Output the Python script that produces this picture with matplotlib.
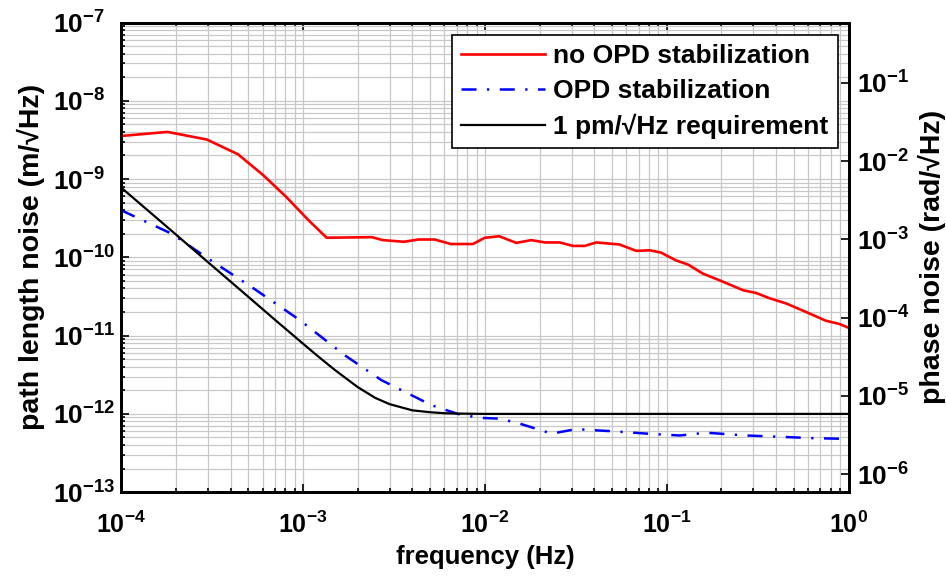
import numpy as np
import matplotlib
matplotlib.use("Agg")
import matplotlib.pyplot as plt
from matplotlib.ticker import LogLocator, NullLocator, NullFormatter

plt.rcParams["font.family"] = ["Liberation Sans", "DejaVu Sans"]
plt.rcParams["font.weight"] = "bold"
plt.rcParams["mathtext.fontset"] = "custom"
plt.rcParams["mathtext.rm"] = "Liberation Sans:bold"
plt.rcParams["mathtext.it"] = "Liberation Sans:bold"
plt.rcParams["mathtext.bf"] = "Liberation Sans:bold"

# no OPD stabilization (red)
f_free = [1.0e-4, 1.8e-4, 2.96e-4, 4.4e-4, 6.05e-4, 8.1e-4, 1.07e-3, 1.35e-3,
          2.39e-3, 2.75e-3, 3.6e-3, 4.3e-3, 5.3e-3, 6.5e-3, 8.6e-3, 1.0e-2,
          1.06e-2, 1.2e-2, 1.49e-2, 1.8e-2, 2.14e-2, 2.58e-2, 3.05e-2, 3.55e-2,
          4.1e-2, 5.5e-2, 6.8e-2, 8.1e-2, 9.3e-2, 1.13e-1, 1.31e-1, 1.58e-1,
          1.95e-1, 2.63e-1, 3.11e-1, 3.68e-1, 4.55e-1, 5.85e-1, 7.5e-1, 8.9e-1, 1.0]
n_free = [3.55e-9, 4.0e-9, 3.2e-9, 2.07e-9, 1.12e-9, 5.9e-10, 3.0e-10, 1.78e-10,
          1.81e-10, 1.66e-10, 1.58e-10, 1.69e-10, 1.69e-10, 1.48e-10, 1.48e-10, 1.78e-10,
          1.8e-10, 1.86e-10, 1.53e-10, 1.66e-10, 1.55e-10, 1.55e-10, 1.40e-10, 1.40e-10,
          1.55e-10, 1.46e-10, 1.21e-10, 1.23e-10, 1.15e-10, 9.1e-11, 8.1e-11, 6.2e-11,
          5.1e-11, 3.8e-11, 3.5e-11, 3.0e-11, 2.57e-11, 2.0e-11, 1.55e-11, 1.41e-11, 1.26e-11]

# OPD stabilization (blue)
f_stab = [1.0e-4, 1.9e-4, 3.0e-4, 5.45e-4, 9.6e-4, 1.7e-3, 2.7e-3, 5.1e-3,
          7.1e-3, 9.4e-3, 1.21e-2, 1.56e-2, 2.33e-2, 3.19e-2, 3.93e-2, 5.07e-2,
          7.76e-2, 1.18e-1, 1.65e-1, 2.74e-1, 4.18e-1, 6.37e-1, 9.7e-1]
n_stab = [4.0e-10, 2.0e-10, 9.7e-11, 3.9e-11, 1.58e-11, 5.6e-12, 2.7e-12, 1.29e-12,
          1.0e-12, 8.9e-13, 8.7e-13, 7.5e-13, 5.6e-13, 6.4e-13, 6.2e-13, 6.0e-13,
          5.6e-13, 5.3e-13, 5.75e-13, 5.3e-13, 5.1e-13, 4.9e-13, 4.8e-13]

# 1 pm/rtHz requirement (black)
f_req = [1.0e-4, 1.5e-4, 2.0e-4, 3.0e-4, 5.0e-4, 7.0e-4, 1.0e-3, 1.2e-3, 1.5e-3,
         2.0e-3, 2.5e-3, 3.0e-3, 4.0e-3, 5.0e-3, 6.0e-3, 7.0e-3, 1.0e-2, 1.0]
n_req = [7.8e-10, 3.48e-10, 1.96e-10, 8.7e-11, 3.14e-11, 1.6e-11, 7.9e-12, 5.53e-12,
         3.63e-12, 2.2e-12, 1.6e-12, 1.33e-12, 1.11e-12, 1.05e-12, 1.02e-12, 1.01e-12,
         1.0e-12, 1.0e-12]

labels = ["no OPD stabilization", "OPD stabilization", "1 pm/\u221aHz requirement"]
yticks = [1e-13, 1e-12, 1e-11, 1e-10, 1e-9, 1e-8, 1e-7]
xticks = [1e-4, 1e-3, 1e-2, 1e-1, 1]
wavelength = 1.064e-6
k = 2 * np.pi / wavelength

fig = plt.figure(figsize=(9.46, 5.77), dpi=100)
ax = fig.add_axes([0.128, 0.147, 0.769, 0.814])

ax.loglog(f_free, n_free, color="#ff0000", lw=1.9, label=labels[0])
ax.loglog(f_stab, n_stab, color="#0000ff", lw=1.8, ls=(0, (6.0, 4.2, 0.9, 4.2)), label=labels[1])
ax.loglog(f_req, n_req, color="black", lw=1.6, label=labels[2])

ax.set_xlim(1e-4, 1)
ax.set_ylim(1e-13, 1e-7)
ax.set_xticks(xticks)
ax.set_yticks(yticks)
ax.xaxis.set_minor_locator(LogLocator(base=10, subs=np.arange(2, 10), numticks=20))
ax.yaxis.set_minor_locator(LogLocator(base=10, subs=np.arange(2, 10), numticks=20))
ax.xaxis.set_minor_formatter(NullFormatter())
ax.yaxis.set_minor_formatter(NullFormatter())
ax.xaxis.get_offset_text().set_visible(False)
ax.yaxis.get_offset_text().set_visible(False)

ax.grid(True, which="both", color="#c8c8c8", lw=0.9, ls="-")
ax.set_axisbelow(True)
ax.tick_params(which="both", direction="in", top=True, right=True, width=1.2)
ax.tick_params(which="major", length=6)
ax.tick_params(which="minor", length=3)
ax.tick_params(axis="x", pad=14, labelsize=18)
ax.tick_params(axis="y", pad=49, labelsize=19)
plt.setp(ax.get_yticklabels(), ha="left")
for s in ax.spines.values():
    s.set_linewidth(2)

ax.set_xlabel("frequency (Hz)", fontsize=18.5, fontweight="bold", labelpad=5)
ax.set_ylabel("path length noise (m/\u221aHz)", fontsize=20.5, fontweight="bold", labelpad=6)

leg = ax.legend(loc="upper right", bbox_to_anchor=(0.985, 0.973), fontsize=19,
                frameon=True, fancybox=False, edgecolor="black", framealpha=1,
                handlelength=3.2, handletextpad=0.3, borderpad=0.35, labelspacing=0.4,
                borderaxespad=0)
leg.get_frame().set_linewidth(1.2)
for t in leg.get_texts():
    t.set_fontweight("bold")

ax2 = ax.twinx()
ax2.set_yscale("log")
ax2.set_ylim(1e-13 * k, 1e-7 * k)
ax2.yaxis.set_major_locator(LogLocator(base=10, numticks=10))
ax2.yaxis.set_minor_locator(NullLocator())
ax2.xaxis.set_visible(False)
ax2.yaxis.get_offset_text().set_visible(False)
ax2.tick_params(which="major", direction="in", length=6, width=1.2, labelsize=19, pad=6)
for s in ax2.spines.values():
    s.set_linewidth(2)
ax2.set_ylabel("phase noise (rad/\u221aHz)", fontsize=20.5, fontweight="bold", labelpad=6)

fig.savefig("out.png", dpi=100)
